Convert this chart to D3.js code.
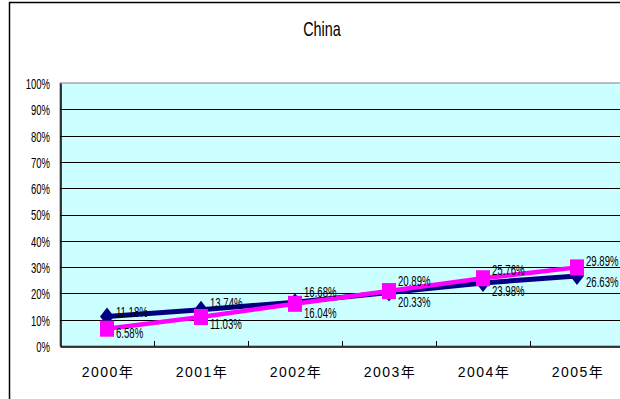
<!DOCTYPE html>
<html>
<head>
<meta charset="utf-8">
<script src="https://cdn.jsdelivr.net/npm/d3@7"></script>
<style>
  html, body { margin: 0; padding: 0; background: #fff; overflow: hidden; }
  svg { display: block; }
  text { font-family: "Liberation Sans", Arial, sans-serif; fill: #000; }
</style>
</head>
<body>
<svg id="chart" width="620" height="399"></svg>
<script>
// Chart data
const title = "China";
const years = ["2000年", "2001年", "2002年", "2003年", "2004年", "2005年"];
const seriesNavy = [0.1118, 0.1374, 0.1668, 0.2033, 0.2398, 0.2663];
const seriesMagenta = [0.0658, 0.1103, 0.1604, 0.2089, 0.2576, 0.2989];
const yTicks = [0, 0.1, 0.2, 0.3, 0.4, 0.5, 0.6, 0.7, 0.8, 0.9, 1.0];

const svg = d3.select("#chart");
const plot = { left: 60, top: 83, right: 624, bottom: 346 };

// Outer chart frame (runs past the right and bottom edges)
svg.append("rect")
  .attr("x", 9.5).attr("y", 2.5)
  .attr("width", 700).attr("height", 500)
  .attr("fill", "#fff").attr("stroke", "#000").attr("stroke-width", 1.5);

const x = d3.scalePoint().domain(years).range([plot.left, plot.right]).padding(0.5);
const band = x.step();
const y = d3.scaleLinear().domain([0, 1]).range([plot.bottom, plot.top]);

// Narrow text helper: horizontally compressed glyphs
function narrowText(parent, px, py, str, opts) {
  const g = parent.append("g")
    .attr("transform", `translate(${px},${py}) scale(${opts.sx || 1},1)`);
  return g.append("text")
    .attr("x", 0).attr("y", 0)
    .attr("dy", "0.35em")
    .attr("text-anchor", opts.anchor || "start")
    .attr("font-size", opts.size)
    .text(str);
}

// Title
narrowText(svg, 322, 29, title, { sx: 0.72, size: 20, anchor: "middle" });

// Plot background
svg.append("rect")
  .attr("x", plot.left).attr("y", plot.top)
  .attr("width", plot.right - plot.left).attr("height", plot.bottom - plot.top)
  .attr("fill", "#CCFFFF").attr("stroke", "#808080").attr("stroke-width", 1);

// Horizontal gridlines
svg.append("g").selectAll("line")
  .data(yTicks.filter(t => t > 0 && t < 1))
  .join("line")
  .attr("x1", plot.left).attr("x2", plot.right)
  .attr("y1", d => Math.round(y(d)) + 0.5).attr("y2", d => Math.round(y(d)) + 0.5)
  .attr("stroke", "#000").attr("stroke-width", 1);

// Y axis
const yAxis = d3.axisLeft(y).tickValues(yTicks).tickSize(0).tickFormat(() => "");
const yG = svg.append("g").attr("transform", `translate(${plot.left + 0.5},0)`).call(yAxis);
yG.select(".domain").attr("stroke", "#000").attr("stroke-width", 1.5);
yTicks.forEach(t => {
  narrowText(svg, 50, y(t) + 1, d3.format(".0%")(t), { sx: 0.68, size: 14, anchor: "end" });
});

// X axis with boundary ticks pointing into the plot
const xAxis = d3.axisBottom(x).tickSize(0).tickFormat(() => "");
const xG = svg.append("g").attr("transform", `translate(0,${plot.bottom + 0.5})`).call(xAxis);
xG.select(".domain").attr("stroke", "#000").attr("stroke-width", 1.5);
xG.selectAll(".tick").remove();
svg.append("g").selectAll("line")
  .data(years.slice(1))
  .join("line")
  .attr("x1", d => Math.round(x(d) - band / 2) + 0.5)
  .attr("x2", d => Math.round(x(d) - band / 2) + 0.5)
  .attr("y1", plot.bottom - 5).attr("y2", plot.bottom)
  .attr("stroke", "#000").attr("stroke-width", 1);

// Year labels
svg.append("g").selectAll("text")
  .data(years)
  .join("text")
  .attr("x", d => x(d) + 1)
  .attr("y", 372)
  .attr("dy", "0.35em")
  .attr("text-anchor", "middle")
  .attr("font-size", 14)
  .attr("letter-spacing", 1.5)
  .style("font-family", "'Liberation Sans', 'Noto Sans CJK SC', sans-serif")
  .text(d => d);

// Lines and markers
const lineGen = d3.line().x((d, i) => x(years[i])).y(d => y(d));

svg.append("path").datum(seriesNavy)
  .attr("d", lineGen)
  .attr("fill", "none").attr("stroke", "#000080").attr("stroke-width", 5)
  .attr("stroke-linejoin", "round");

const diamond = "M0,-9 L7,0 L0,9 L-7,0 Z";
svg.append("g").selectAll("path")
  .data(seriesNavy)
  .join("path")
  .attr("transform", (d, i) => `translate(${x(years[i])},${y(d)})`)
  .attr("d", diamond)
  .attr("fill", "#000080");

svg.append("path").datum(seriesMagenta)
  .attr("d", lineGen)
  .attr("fill", "none").attr("stroke", "#FF00FF").attr("stroke-width", 4.5)
  .attr("stroke-linejoin", "round");

svg.append("g").selectAll("rect")
  .data(seriesMagenta)
  .join("rect")
  .attr("x", (d, i) => x(years[i]) - 7)
  .attr("y", d => y(d) - 8)
  .attr("width", 14).attr("height", 16)
  .attr("fill", "#FF00FF");

// Value labels: the higher of each pair sits above, the lower below
const labels = svg.append("g");
years.forEach((yr, i) => {
  const a = seriesNavy[i], b = seriesMagenta[i];
  const ya = y(a), yb = y(b);
  const mid = (ya + yb) / 2;
  const upperIsNavy = a >= b;
  const upperY = Math.min(upperIsNavy ? ya : yb, mid - 11);
  const lowerY = Math.max(upperIsNavy ? yb : ya, mid + 10);
  const fmt = v => (v * 100).toFixed(2) + "%";
  const px = x(yr) + 9;
  narrowText(labels, px, upperIsNavy ? upperY : lowerY, fmt(a), { sx: 0.64, size: 15 });
  narrowText(labels, px, upperIsNavy ? lowerY : upperY, fmt(b), { sx: 0.64, size: 15 });
});
</script>
</body>
</html>
